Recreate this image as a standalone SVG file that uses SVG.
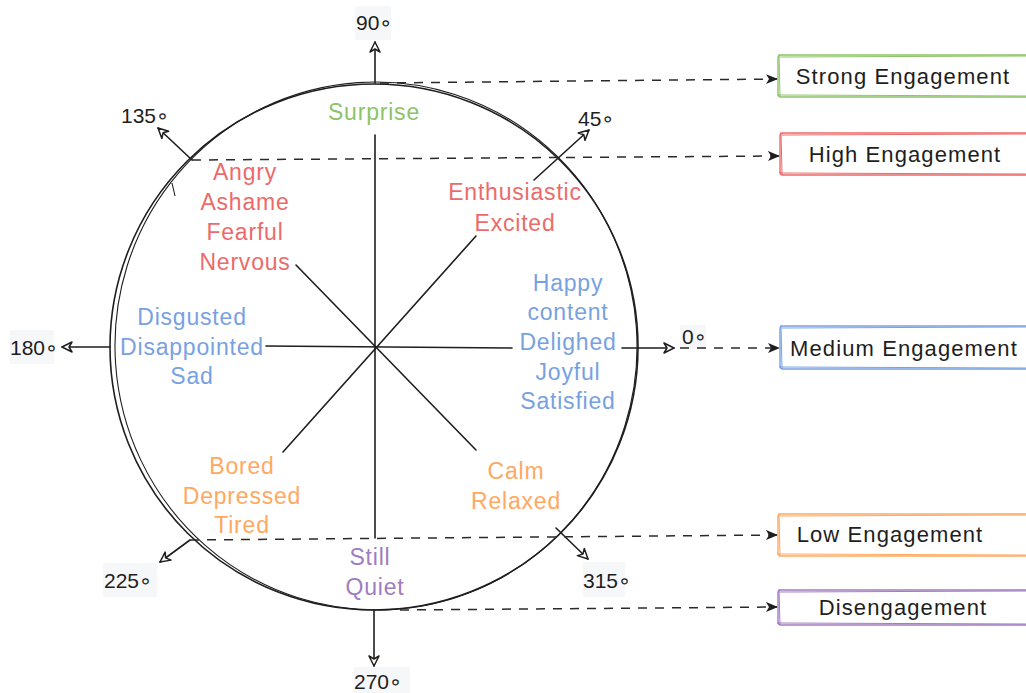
<svg xmlns="http://www.w3.org/2000/svg" width="1026" height="693" viewBox="0 0 1026 693">
  <style>
    .ink { fill: none; stroke: #1e1e1e; stroke-width: 1.6; stroke-linecap: round; }
    .thin { fill: none; stroke: #1e1e1e; stroke-width: 1.1; }
    .dash { fill: none; stroke: #2a2a2a; stroke-width: 1.5; stroke-dasharray: 9 8; }
    .lbl { font-family: "Liberation Sans", "Open Sans", sans-serif; font-size: 23px; letter-spacing: 0.8px; text-anchor: middle; }
    .deg { font-family: "Liberation Sans", "DejaVu Sans", sans-serif; font-size: 21px; fill: #1e1e1e; }
    .degbg { fill: #f6f7f8; }
    .box { font-family: "Liberation Sans", "Open Sans", sans-serif; font-size: 22px; letter-spacing: 1.1px; fill: #1e1e1e; text-anchor: middle; }
    .green { fill: #8cc466; }
    .red { fill: #ec6a6a; }
    .blue { fill: #78a1e2; }
    .orange { fill: #ffa860; }
    .purple { fill: #a07cc0; }
  </style>
  <defs>
    <marker id="open" viewBox="0 0 12 12" refX="11" refY="6" markerWidth="12" markerHeight="12" markerUnits="userSpaceOnUse" orient="auto">
      <path d="M1,1 L11,6 L1,11 L4,6 Z" fill="#fff" stroke="#1e1e1e" stroke-width="1.5" stroke-linejoin="round"/>
    </marker>
    <marker id="solid" viewBox="0 0 12 12" refX="11" refY="6" markerWidth="12" markerHeight="12" markerUnits="userSpaceOnUse" orient="auto">
      <path d="M0,1 L12,6 L0,11 L3,6 Z" fill="#1e1e1e"/>
    </marker>
  </defs>

  <!-- sketched circle: two slightly offset strokes -->
  <g id="circle">
    <ellipse cx="374" cy="347" rx="264" ry="263" class="ink"/>
    <ellipse cx="376" cy="346" rx="261" ry="264" class="thin" transform="rotate(-4 376 346)"/>
    <path d="M172,183 L175,196" class="thin"/>
  </g>

  <!-- axes -->
  <g id="axes">
    <line x1="375" y1="83" x2="375" y2="42" class="ink" marker-end="url(#open)"/>
    <line x1="375" y1="135" x2="375" y2="538" class="ink"/>
    <line x1="374" y1="610" x2="374" y2="666" class="ink" marker-end="url(#open)"/>
    <line x1="110" y1="347" x2="62" y2="347" class="ink" marker-end="url(#open)"/>
    <line x1="266" y1="346" x2="512" y2="348" class="ink"/>
    <line x1="622" y1="348" x2="674" y2="348" class="ink" marker-end="url(#open)"/>
    <line x1="283" y1="452" x2="476" y2="236" class="ink"/>
    <line x1="534" y1="180" x2="589" y2="130" class="ink" marker-end="url(#open)"/>
    <line x1="296" y1="265" x2="476" y2="450" class="ink"/>
    <line x1="192" y1="160" x2="158" y2="128" class="ink" marker-end="url(#open)"/>
    <line x1="190" y1="540" x2="160" y2="562" class="ink" marker-end="url(#open)"/>
    <line x1="556" y1="528" x2="588" y2="559" class="ink" marker-end="url(#open)"/>
  </g>

  <!-- angle labels -->
  <g id="angles">
    <rect class="degbg" x="355" y="6" width="36" height="34"/>
    <text class="deg" x="356" y="30">90∘</text>
    <text class="deg" x="121" y="123">135∘</text>
    <text class="deg" x="578" y="126">45∘</text>
    <rect class="degbg" x="10" y="330" width="44" height="34"/>
    <text class="deg" x="10" y="355">180∘</text>
    <rect class="degbg" x="680" y="325" width="26" height="24"/>
    <text class="deg" x="682" y="344">0∘</text>
    <rect class="degbg" x="103" y="563" width="54" height="34"/>
    <text class="deg" x="104" y="588">225∘</text>
    <rect class="degbg" x="583" y="562" width="42" height="35"/>
    <text class="deg" x="583" y="588">315∘</text>
    <rect class="degbg" x="354" y="667" width="56" height="26"/>
    <text class="deg" x="354" y="689">270∘</text>
  </g>

  <!-- emotion words -->
  <g id="surprise"><text class="lbl green" x="374" y="120">Surprise</text></g>
  <g id="negative-high">
    <text class="lbl red" x="245" y="180">Angry</text>
    <text class="lbl red" x="245" y="210">Ashame</text>
    <text class="lbl red" x="245" y="240">Fearful</text>
    <text class="lbl red" x="245" y="270">Nervous</text>
  </g>
  <g id="positive-high">
    <text class="lbl red" x="515" y="200">Enthusiastic</text>
    <text class="lbl red" x="515" y="231">Excited</text>
  </g>
  <g id="positive-medium">
    <text class="lbl blue" x="568" y="291">Happy</text>
    <text class="lbl blue" x="568" y="320">content</text>
    <text class="lbl blue" x="568" y="350">Delighed</text>
    <text class="lbl blue" x="568" y="380">Joyful</text>
    <text class="lbl blue" x="568" y="409">Satisfied</text>
  </g>
  <g id="negative-medium">
    <text class="lbl blue" x="192" y="325">Disgusted</text>
    <text class="lbl blue" x="192" y="355">Disappointed</text>
    <text class="lbl blue" x="192" y="384">Sad</text>
  </g>
  <g id="negative-low">
    <text class="lbl orange" x="242" y="474">Bored</text>
    <text class="lbl orange" x="242" y="504">Depressed</text>
    <text class="lbl orange" x="242" y="533">Tired</text>
  </g>
  <g id="positive-low">
    <text class="lbl orange" x="516" y="479">Calm</text>
    <text class="lbl orange" x="516" y="509">Relaxed</text>
  </g>
  <g id="still">
    <text class="lbl purple" x="370" y="565">Still</text>
    <text class="lbl purple" x="375" y="595">Quiet</text>
  </g>

  <!-- dashed connectors to engagement levels -->
  <g id="connectors">
    <line x1="380" y1="83" x2="777" y2="79" class="dash" marker-end="url(#solid)"/>
    <line x1="192" y1="160" x2="779" y2="156" class="dash" marker-end="url(#solid)"/>
    <line x1="680" y1="348" x2="779" y2="348" class="dash" marker-end="url(#solid)"/>
    <line x1="190" y1="540" x2="777" y2="535" class="dash" marker-end="url(#solid)"/>
    <line x1="400" y1="610" x2="777" y2="607" class="dash" marker-end="url(#solid)"/>
  </g>

  <!-- engagement level boxes -->
  <g id="strong-engagement">
    <rect x="778" y="55" width="260" height="42" rx="3" fill="#fff" stroke="#8cc466" stroke-width="1.4"/>
    <path d="M780,57 L1026,56 M777,95 L1026,96 M779,54 L780,96" fill="none" stroke="#8cc466" stroke-width="1"/>
    <text class="box" x="903" y="84">Strong Engagement</text>
  </g>
  <g id="high-engagement">
    <rect x="780" y="133" width="258" height="42" rx="3" fill="#fff" stroke="#ec6a6a" stroke-width="1.4"/>
    <path d="M782,135 L1026,134 M779,173 L1026,174 M781,132 L782,175" fill="none" stroke="#ec6a6a" stroke-width="1"/>
    <text class="box" x="905" y="162">High Engagement</text>
  </g>
  <g id="medium-engagement">
    <rect x="780" y="326" width="258" height="43" rx="3" fill="#fff" stroke="#78a1e2" stroke-width="1.4"/>
    <path d="M782,328 L1026,327 M779,367 L1026,368 M781,325 L782,369" fill="none" stroke="#78a1e2" stroke-width="1"/>
    <text class="box" x="904" y="356">Medium Engagement</text>
  </g>
  <g id="low-engagement">
    <rect x="778" y="514" width="260" height="42" rx="3" fill="#fff" stroke="#ffa860" stroke-width="1.4"/>
    <path d="M780,516 L1026,515 M777,554 L1026,555 M779,513 L780,556" fill="none" stroke="#ffa860" stroke-width="1"/>
    <text class="box" x="890" y="542">Low Engagement</text>
  </g>
  <g id="disengagement">
    <rect x="778" y="590" width="260" height="35" rx="3" fill="#fff" stroke="#a07cc0" stroke-width="1.4"/>
    <path d="M780,592 L1026,591 M777,623 L1026,624 M779,589 L780,625" fill="none" stroke="#a07cc0" stroke-width="1"/>
    <text class="box" x="903" y="615">Disengagement</text>
  </g>
</svg>
